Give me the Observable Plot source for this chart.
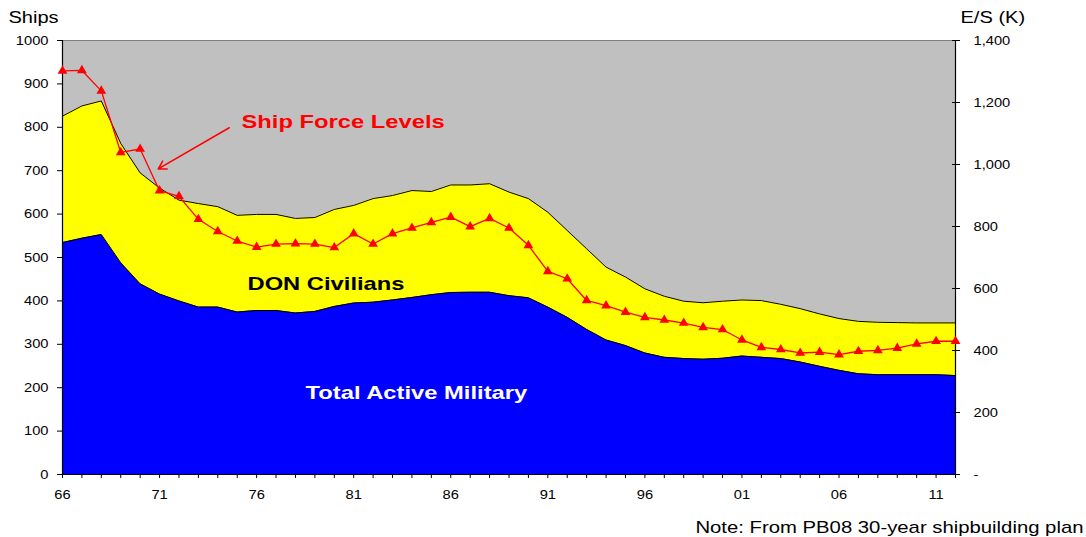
<!DOCTYPE html>
<html>
<head>
<meta charset="utf-8">
<script src="https://cdn.jsdelivr.net/npm/d3@7"></script>
<script src="https://cdn.jsdelivr.net/npm/@observablehq/plot@0.6"></script>
<style>
  html, body { margin: 0; padding: 0; background: #ffffff; }
</style>
</head>
<body>
<div id="chart"></div>
<script>
// ---- Data ----
const years = [1966,1967,1968,1969,1970,1971,1972,1973,1974,1975,1976,1977,1978,1979,1980,
  1981,1982,1983,1984,1985,1986,1987,1988,1989,1990,1991,1992,1993,1994,1995,1996,1997,1998,
  1999,2000,2001,2002,2003,2004,2005,2006,2007,2008,2009,2010,2011,2012];

// Ship force levels (left axis, ships)
const shipForce = [930,931,884,742,750,654,641,588,560,538,524,531,532,531,523,
  555,531,555,568,581,593,571,590,568,528,468,451,401,389,374,362,356,349,
  339,334,310,293,288,280,282,276,284,286,291,301,307,307];

// Total active military (right axis, E/S thousands)
const activeMilitary = [748,762,774,683,615,582,560,540,540,524,529,529,521,526,542,
  553,556,563,571,580,587,588,588,577,570,540,507,468,434,416,392,378,374,
  372,375,382,378,374,363,349,336,325,322,322,322,322,319];

// DON civilians (right axis, E/S thousands), stacked on military
const donCivilians = [408,427,431,385,358,342,325,334,324,312,310,310,305,303,313,
  315,334,337,345,333,347,346,350,334,320,306,280,260,235,221,207,197,185,
  182,184,181,183,175,172,169,167,169,169,168,167,167,170];

// Axis ticks
const shipTicks = [0,100,200,300,400,500,600,700,800,900,1000];
const esTicks = [0,200,400,600,800,1000,1200,1400];
const labelYears = [1966,1971,1976,1981,1986,1991,1996,2001,2006,2011];

// Annotations
const labels = [
  {text: "Ship Force Levels", year: 1975.22, value: 799, color: "#FF0000"},
  {text: "DON Civilians", year: 1975.53, value: 426, color: "#000000"},
  {text: "Total Active Military", year: 1978.52, value: 173, color: "#FFFFFF"}
];
const arrowData = [{yearFrom: 1974.59, valueFrom: 799, yearTo: 1970.93, valueTo: 704}];
const leftTitle = "Ships";
const rightTitle = "E/S (K)";
const note = "Note: From PB08 30-year shipbuilding plan";

// ---- Build ----
const shipMax = shipTicks[shipTicks.length - 1];
const esMax = esTicks[esTicks.length - 1];
const ratio = esMax / shipMax; // E/S (K) per ship unit on the shared vertical scale

const rows = years.map((year, i) => ({
  year,
  ships: shipForce[i],
  military: activeMilitary[i],
  total: activeMilitary[i] + donCivilians[i]
}));

const fmtComma = d3.format(",");

const plot = Plot.plot({
  width: 1086,
  height: 537,
  marginLeft: 62,
  marginRight: 131,
  marginTop: 40,
  marginBottom: 63,
  style: {fontFamily: "'Liberation Sans', Arial, sans-serif", fontSize: "13px", color: "#000", background: "#fff", overflow: "visible"},
  x: {domain: [years[0], years[years.length - 1]]},
  y: {domain: [0, shipMax]},
  marks: [
    Plot.frame({fill: "#C0C0C0", stroke: "none"}),
    Plot.areaY(rows, {x: "year", y1: 0, y2: d => d.total / ratio, fill: "#FFFF00"}),
    Plot.areaY(rows, {x: "year", y1: 0, y2: d => d.military / ratio, fill: "#0000FF"}),
    Plot.lineY(rows, {x: "year", y: d => d.total / ratio, stroke: "#000", strokeWidth: 1}),
    Plot.lineY(rows, {x: "year", y: d => d.military / ratio, stroke: "#000", strokeWidth: 1}),
    Plot.frame({stroke: "#808080", strokeWidth: 1}),
    Plot.ruleX([years[0], years[years.length - 1]], {stroke: "#000", strokeWidth: 1.2}),
    Plot.ruleY([0], {stroke: "#000", strokeWidth: 1.2}),
    Plot.lineY(rows, {x: "year", y: "ships", stroke: "#FF0000", strokeWidth: 1.3}),
    Plot.dot(rows, {x: "year", y: "ships", symbol: "triangle", r: 3.6, fill: "#FF0000", stroke: "none"}),
    Plot.arrow(arrowData, {x1: "yearFrom", y1: "valueFrom", x2: "yearTo", y2: "valueTo", stroke: "#FF0000", strokeWidth: 1.5, headLength: 9}),
    Plot.text(labels, {x: "year", y: "value", text: "text", fill: "color", textAnchor: "start", lineAnchor: "bottom", fontWeight: "bold", fontSize: 19}),
    // Left axis (ships)
    Plot.axisY(shipTicks, {anchor: "left", tickSize: 5, tickPadding: 9, tickFormat: d => String(d), label: null}),
    // Right axis (E/S thousands)
    Plot.axisY(esTicks.map(v => v / ratio), {anchor: "right", tickSize: 8, dx: -4, tickPadding: 14,
      tickFormat: v => { const e = Math.round(v * ratio); return e === 0 ? "-" : fmtComma(e); }, label: null}),
    // Bottom axis (years)
    Plot.axisX(years, {anchor: "bottom", tickSize: 4, tickPadding: 11,
      tickFormat: d => labelYears.includes(d) ? String(d).slice(-2) : "", label: null}),
    // Axis titles and note
    Plot.text([leftTitle], {frameAnchor: "top-left", dx: -54, dy: -18, text: d => d, textAnchor: "start", lineAnchor: "bottom", fontSize: 17}),
    Plot.text([rightTitle], {frameAnchor: "top-right", dx: 5, dy: -18, text: d => d, textAnchor: "start", lineAnchor: "bottom", fontSize: 17}),
    Plot.text([note], {frameAnchor: "bottom-right", dx: 128, dy: 58, text: d => d, textAnchor: "end", lineAnchor: "bottom", fontSize: 16})
  ]
});

document.getElementById("chart").appendChild(plot);

// Horizontally widen lettering to match the reference's stretched text
const byText = new Map([
  ...labels.map(d => [d.text, 1.25]),
  [leftTitle, 1.18], [rightTitle, 1.18], [note, 1.27]
]);
const byGroup = {"y-axis tick label": 1.13, "x-axis tick label": 1.13};
plot.querySelectorAll("text").forEach(el => {
  const g = el.parentNode && el.parentNode.closest ? el.parentNode.closest("g[aria-label]") : null;
  const lab = g ? g.getAttribute("aria-label") : "";
  const s = byGroup[lab] || byText.get(el.textContent);
  if (!s) return;
  const t = el.getAttribute("transform") || "";
  const x = +el.getAttribute("x") || 0;
  const y = +el.getAttribute("y") || 0;
  el.setAttribute("transform", `${t} translate(${x},${y}) scale(${s},1) translate(${-x},${-y})`);
});
</script>
</body>
</html>
